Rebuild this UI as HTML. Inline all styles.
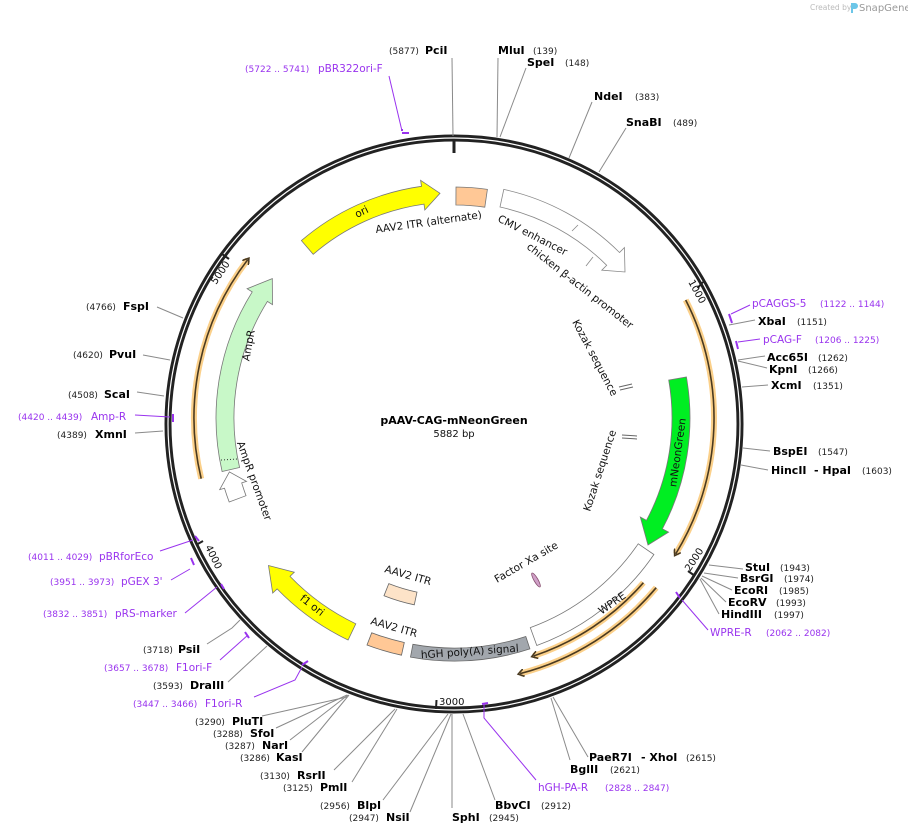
<!DOCTYPE html>
<html><head><meta charset="utf-8"><style>
html,body{margin:0;padding:0;background:#fff;}
svg{display:block;font-family:"DejaVu Sans","Liberation Sans",sans-serif;}
.n{font-weight:bold;font-size:11px;fill:#000;}
.c{font-size:9px;fill:#222;}
.p{font-size:10.5px;fill:#9933ee;}
.pc{font-size:9px;fill:#9933ee;}
.f{font-size:10.5px;fill:#111;}
.l{stroke:#8a8a8a;stroke-width:1;fill:none;}
.pl{stroke:#9933ee;stroke-width:1;fill:none;}
.pm{stroke:#9933ee;stroke-width:2;fill:none;}
</style></head><body>
<svg width="908" height="834" viewBox="0 0 908 834" xmlns="http://www.w3.org/2000/svg">
<defs>
<marker id="ah" markerWidth="8" markerHeight="8" refX="4" refY="4" orient="auto" markerUnits="userSpaceOnUse">
<path d="M0,0 L6,4 L0,8" fill="none" stroke="#4a3a20" stroke-width="1.6"/>
</marker>
</defs>
<!-- logo -->
<text x="810" y="10" font-size="7.5" fill="#bbb">Created by</text>
<path d="M851,3 l4,0 a3,3 0 0 1 0,6 l-2,0 l0,4 l-2,0z" fill="#6cc6e8"/>
<text x="859" y="11" font-size="10" fill="#999">SnapGene</text>

<!-- ring -->
<circle cx="454" cy="424" r="286" fill="none" stroke="#222" stroke-width="7"/>
<circle cx="454" cy="424" r="286" fill="none" stroke="#fff" stroke-width="1.2"/>
<line x1="454" y1="140" x2="454" y2="153" stroke="#222" stroke-width="3"/>
<!-- ticks -->
<g stroke="#222" stroke-width="2">
<line x1="697.5" y1="288" x2="703" y2="282"/>
<line x1="688" y1="571" x2="695" y2="576"/>
<line x1="436.5" y1="700" x2="436" y2="709"/>
<line x1="203" y1="541" x2="196" y2="545"/>
<line x1="229" y1="259" x2="222" y2="254"/>
</g>
<text x="688" y="282" font-size="10" transform="rotate(61 688 282)" fill="#111">1000</text>
<text x="690" y="572" font-size="10" transform="rotate(-57 690 572)" fill="#111">2000</text>
<text x="439" y="705" font-size="10" fill="#111">3000</text>
<text x="205" y="547" font-size="10" transform="rotate(64 205 547)" fill="#111">4000</text>
<text x="216" y="285" font-size="10" transform="rotate(-56 216 285)" fill="#111">5000</text>

<!-- primer orange arrows -->
<g fill="none">
<path d="M685.7,300 A260,260 0 0 1 675.7,553.9" stroke="#fbd08a" stroke-width="6"/>
<path d="M685.7,300 A260,260 0 0 1 675.7,553.9" stroke="#4a3a20" stroke-width="1.6" marker-end="url(#ah)"/>
<path d="M201.2,478.7 A260,260 0 0 1 247.7,259.7" stroke="#fbd08a" stroke-width="6"/>
<path d="M201.2,478.7 A260,260 0 0 1 247.7,259.7" stroke="#4a3a20" stroke-width="1.6" marker-end="url(#ah)"/>
<path d="M643.4,582.7 A251,251 0 0 1 533.6,656" stroke="#fbd08a" stroke-width="6"/>
<path d="M643.4,582.7 A251,251 0 0 1 533.6,656" stroke="#4a3a20" stroke-width="1.6" marker-end="url(#ah)"/>
<path d="M656.2,587.7 A264,264 0 0 1 520.1,673.6" stroke="#fbd08a" stroke-width="6"/>
<path d="M656.2,587.7 A264,264 0 0 1 520.1,673.6" stroke="#4a3a20" stroke-width="1.6" marker-end="url(#ah)"/>
</g>

<!-- ori -->
<path d="M301.4,240.6 A234,234 0 0 1 421.5,186.3 L420.6,180.3 L440,193.3 L424.8,210 L424,204.1 A216,216 0 0 0 313.2,254.3 Z" fill="#ffff00" stroke="#777" stroke-width="0.8"/>
<text x="357" y="218" font-size="10.5" transform="rotate(-26 357 218)" fill="#111">ori</text>
<!-- AAV2 ITR alt -->
<path d="M456,187 A231,231 0 0 1 487.4,189.4 L484.8,207.2 A213,213 0 0 0 455.9,205 Z" fill="#ffc896" stroke="#777" stroke-width="0.8"/>
<text x="376" y="233" class="f" transform="rotate(-8 376 233)">AAV2 ITR (alternate)</text>
<!-- CMV -->
<path d="M503.8,189.4 A234,234 0 0 1 619.5,252.5 L624.4,247.6 L625,272 L601.8,270.2 L606.7,265.3 A216,216 0 0 0 500,207 Z" fill="#fff" stroke="#888" stroke-width="0.8"/>
<line x1="578" y1="225" x2="572" y2="231" stroke="#888" stroke-width="0.8"/>
<line x1="593" y1="257" x2="586" y2="266" stroke="#888" stroke-width="0.8"/>
<text x="497" y="221" class="f" transform="rotate(27 497 221)">CMV enhancer</text>
<text x="526" y="248" class="f" transform="rotate(38 526 248)">chicken β-actin promoter</text>
<!-- Kozak -->
<g stroke="#666" stroke-width="1"><line x1="619" y1="387" x2="632" y2="384"/><line x1="620" y1="390" x2="633" y2="387"/>
<line x1="622" y1="435" x2="637" y2="436"/><line x1="622" y1="438" x2="637" y2="439"/></g>
<text x="572" y="322" class="f" transform="rotate(62 572 322)">Kozak sequence</text>
<text x="590" y="512" class="f" transform="rotate(-72 590 512)">Kozak sequence</text>
<!-- mNeonGreen -->
<path d="M686.4,377 A236,236 0 0 1 662.4,528.8 L668.6,532.1 L648,545 L640.3,517 L646.5,520.3 A218,218 0 0 0 668.7,380.1 Z" fill="#00ee22" stroke="#777" stroke-width="0.8"/>
<text x="0" y="0" class="f" text-anchor="middle" transform="translate(681,453) rotate(-82)">mNeonGreen</text>
<!-- WPRE -->
<path d="M653.9,554.5 A242,242 0 0 1 536.8,645.5 L530.3,627.6 A223,223 0 0 0 638.2,543.8 Z" fill="#fff" stroke="#777" stroke-width="0.8"/>
<text x="0" y="0" class="f" text-anchor="middle" transform="translate(614,606) rotate(-35)">WPRE</text>
<!-- hGH -->
<path d="M529.9,648.9 A243,243 0 0 1 410.5,657.1 L412.9,644.3 A230,230 0 0 0 525.8,636.5 Z" fill="#a2a7ad" stroke="#666" stroke-width="0.8"/>
<text x="0" y="0" class="f" text-anchor="middle" transform="translate(470,655) rotate(-4)">hGH poly(A) signal</text>
<!-- AAV2 ITR bottom -->
<path d="M401.5,655.2 A243,243 0 0 1 367,645 L371.7,632.8 A230,230 0 0 0 404.3,642.5 Z" fill="#ffc896" stroke="#666" stroke-width="0.8"/>
<text x="370" y="624" class="f" transform="rotate(16 370 624)">AAV2 ITR</text>
<path d="M414.3,604.8 A191,191 0 0 1 384,595.7 L388.8,583.6 A178,178 0 0 0 417,592.1 Z" fill="#fde3c8" stroke="#666" stroke-width="0.8"/>
<text x="384" y="572" class="f" transform="rotate(16 384 572)">AAV2 ITR</text>
<!-- Factor Xa -->
<ellipse cx="536" cy="580" rx="8" ry="2" transform="rotate(60 536 580)" fill="#d0a0c8" stroke="#885070" stroke-width="0.8"/>
<text x="497" y="583" class="f" transform="rotate(-30 497 583)">Factor Xa site</text>
<!-- f1 ori -->
<path d="M348.1,640 A246,246 0 0 1 277.1,588.9 L272.7,593.1 L268.5,565.5 L294.3,572.2 L290,576.4 A228,228 0 0 0 355.8,623.8 Z" fill="#ffff00" stroke="#777" stroke-width="0.8"/>
<text x="0" y="0" class="f" text-anchor="middle" transform="translate(310,608) rotate(38)">f1 ori</text>
<!-- AmpR promoter -->
<path d="M229.2,502 A240,240 0 0 1 224.5,488.2 L219.7,489.6 L229.4,471.9 L246.5,481.4 L241.7,482.9 A222,222 0 0 0 246,495.7 Z" fill="#fff" stroke="#777" stroke-width="0.8"/>
<!-- AmpR -->
<path d="M222.1,471.5 A238,238 0 0 1 252.2,291.9 L247.1,288.7 L272.3,278.6 L272.5,304.6 L267.4,301.4 A220,220 0 0 0 239.6,467.5 Z" fill="#c8f8c8" stroke="#777" stroke-width="0.8"/>
<line x1="221" y1="460" x2="238" y2="459" stroke="#333" stroke-width="1" stroke-dasharray="1,2"/>
<text x="0" y="0" class="f" text-anchor="middle" transform="translate(252,346) rotate(-80)">AmpR</text>
<text x="0" y="0" class="f" text-anchor="middle" transform="translate(251,482) rotate(70)">AmpR promoter</text>

<!-- title -->
<text x="454" y="424" text-anchor="middle" font-size="11" font-weight="bold">pAAV-CAG-mNeonGreen</text>
<text x="454" y="437" text-anchor="middle" font-size="10" fill="#111">5882 bp</text>

<!-- leader lines -->
<g class="l">
<line x1="452" y1="58" x2="453" y2="136"/>
<line x1="498" y1="58" x2="497" y2="137"/>
<line x1="526" y1="68" x2="500" y2="137"/>
<line x1="592" y1="102" x2="569" y2="158"/>
<line x1="626" y1="128" x2="599" y2="172"/>
<line x1="755" y1="320" x2="729" y2="325"/>
<line x1="765" y1="356" x2="738" y2="360"/>
<line x1="767" y1="368" x2="738" y2="361"/>
<line x1="768" y1="385" x2="742" y2="387"/>
<line x1="770" y1="451" x2="743" y2="448"/>
<line x1="768" y1="470" x2="741" y2="465"/>
<line x1="743" y1="569" x2="709" y2="565"/>
<line x1="738" y1="578" x2="704" y2="573"/>
<line x1="732" y1="590" x2="702" y2="576"/>
<line x1="726" y1="602" x2="701" y2="578"/>
<line x1="719" y1="614" x2="700" y2="579"/>
<line x1="588" y1="757" x2="553" y2="697"/>
<line x1="570" y1="760" x2="551" y2="698"/>
<line x1="495" y1="800" x2="463" y2="714"/>
<line x1="452" y1="808" x2="452" y2="714"/>
<line x1="410" y1="812" x2="451" y2="714"/>
<line x1="383" y1="800" x2="448" y2="714"/>
<line x1="352" y1="782" x2="397" y2="709"/>
<line x1="334" y1="770" x2="395" y2="709"/>
<line x1="302" y1="752" x2="349" y2="695"/>
<line x1="290" y1="740" x2="348" y2="695"/>
<line x1="276" y1="728" x2="347" y2="695"/>
<line x1="262" y1="716" x2="347" y2="697"/>
<line x1="228" y1="682" x2="267" y2="646"/>
<polyline points="207,644 232,628 240,620"/>
<line x1="135" y1="433" x2="163" y2="431"/>
<line x1="137" y1="392" x2="164" y2="396"/>
<line x1="143" y1="355" x2="170" y2="360"/>
<line x1="157" y1="307" x2="183" y2="318"/>
</g>
<!-- primer lines & marks -->
<g class="pl">
<line x1="389" y1="76" x2="402" y2="131"/>
<line x1="750" y1="305" x2="731" y2="314"/>
<line x1="760" y1="339" x2="738" y2="342"/>
<line x1="708" y1="630" x2="682" y2="600"/>
<polyline points="536,780 484,718 484,704"/>
<polyline points="254,697 295,680 302,667"/>
<line x1="220" y1="660" x2="248" y2="635"/>
<line x1="185" y1="613" x2="217" y2="587"/>
<line x1="171" y1="580" x2="190" y2="569"/>
<line x1="160" y1="551" x2="193" y2="540"/>
<line x1="135" y1="415" x2="170" y2="417"/>
</g>
<g class="pm">
<path d="M402,131 l0,-2 M402,133 l7,0"/>
<line x1="729" y1="314" x2="732" y2="323"/>
<line x1="736" y1="341" x2="738" y2="349"/>
<line x1="676" y1="592" x2="680" y2="598"/>
<line x1="482" y1="704" x2="488" y2="703"/>
<line x1="302" y1="665" x2="308" y2="661"/>
<line x1="245" y1="632" x2="249" y2="638"/>
<line x1="221" y1="584" x2="224" y2="589"/>
<line x1="191" y1="558" x2="194" y2="565"/>
<line x1="195" y1="536" x2="199" y2="541"/>
<line x1="173" y1="414" x2="173" y2="422"/>
</g>

<!-- labels top -->
<text x="389" y="54" class="c">(5877)</text><text x="425" y="54" class="n">PciI</text>
<text x="498" y="54" class="n">MluI</text><text x="533" y="54" class="c">(139)</text>
<text x="527" y="66" class="n">SpeI</text><text x="565" y="66" class="c">(148)</text>
<text x="594" y="100" class="n">NdeI</text><text x="635" y="100" class="c">(383)</text>
<text x="626" y="126" class="n">SnaBI</text><text x="673" y="126" class="c">(489)</text>
<text x="245" y="72" class="pc">(5722 .. 5741)</text><text x="318" y="72" class="p">pBR322ori-F</text>
<!-- right -->
<text x="752" y="307" class="p">pCAGGS-5</text><text x="820" y="307" class="pc">(1122 .. 1144)</text>
<text x="758" y="325" class="n">XbaI</text><text x="797" y="325" class="c">(1151)</text>
<text x="763" y="343" class="p">pCAG-F</text><text x="815" y="343" class="pc">(1206 .. 1225)</text>
<text x="767" y="361" class="n">Acc65I</text><text x="818" y="361" class="c">(1262)</text>
<text x="769" y="373" class="n">KpnI</text><text x="808" y="373" class="c">(1266)</text>
<text x="771" y="389" class="n">XcmI</text><text x="813" y="389" class="c">(1351)</text>
<text x="773" y="455" class="n">BspEI</text><text x="818" y="455" class="c">(1547)</text>
<text x="771" y="474" class="n">HincII</text><text x="814" y="474" class="n">- HpaI</text><text x="862" y="474" class="c">(1603)</text>
<text x="745" y="571" class="n">StuI</text><text x="780" y="571" class="c">(1943)</text>
<text x="740" y="582" class="n">BsrGI</text><text x="784" y="582" class="c">(1974)</text>
<text x="734" y="594" class="n">EcoRI</text><text x="779" y="594" class="c">(1985)</text>
<text x="728" y="606" class="n">EcoRV</text><text x="776" y="606" class="c">(1993)</text>
<text x="721" y="618" class="n">HindIII</text><text x="774" y="618" class="c">(1997)</text>
<text x="710" y="636" class="p">WPRE-R</text><text x="766" y="636" class="pc">(2062 .. 2082)</text>
<!-- bottom -->
<text x="589" y="761" class="n">PaeR7I</text><text x="641" y="761" class="n">- XhoI</text><text x="686" y="761" class="c">(2615)</text>
<text x="570" y="773" class="n">BglII</text><text x="610" y="773" class="c">(2621)</text>
<text x="538" y="791" class="p">hGH-PA-R</text><text x="605" y="791" class="pc">(2828 .. 2847)</text>
<text x="495" y="809" class="n">BbvCI</text><text x="541" y="809" class="c">(2912)</text>
<text x="452" y="821" class="n">SphI</text><text x="489" y="821" class="c">(2945)</text>
<text x="349" y="821" class="c">(2947)</text><text x="386" y="821" class="n">NsiI</text>
<text x="320" y="809" class="c">(2956)</text><text x="357" y="809" class="n">BlpI</text>
<text x="283" y="791" class="c">(3125)</text><text x="320" y="791" class="n">PmlI</text>
<text x="260" y="779" class="c">(3130)</text><text x="297" y="779" class="n">RsrII</text>
<text x="240" y="761" class="c">(3286)</text><text x="276" y="761" class="n">KasI</text>
<text x="225" y="749" class="c">(3287)</text><text x="262" y="749" class="n">NarI</text>
<text x="213" y="737" class="c">(3288)</text><text x="250" y="737" class="n">SfoI</text>
<text x="195" y="725" class="c">(3290)</text><text x="232" y="725" class="n">PluTI</text>
<text x="133" y="707" class="pc">(3447 .. 3466)</text><text x="205" y="707" class="p">F1ori-R</text>
<text x="153" y="689" class="c">(3593)</text><text x="190" y="689" class="n">DraIII</text>
<text x="104" y="671" class="pc">(3657 .. 3678)</text><text x="176" y="671" class="p">F1ori-F</text>
<text x="143" y="653" class="c">(3718)</text><text x="178" y="653" class="n">PsiI</text>
<text x="43" y="617" class="pc">(3832 .. 3851)</text><text x="115" y="617" class="p">pRS-marker</text>
<text x="50" y="585" class="pc">(3951 .. 3973)</text><text x="121" y="585" class="p">pGEX 3'</text>
<text x="28" y="560" class="pc">(4011 .. 4029)</text><text x="99" y="560" class="p">pBRforEco</text>
<!-- left -->
<text x="57" y="438" class="c">(4389)</text><text x="95" y="438" class="n">XmnI</text>
<text x="18" y="420" class="pc">(4420 .. 4439)</text><text x="91" y="420" class="p">Amp-R</text>
<text x="68" y="398" class="c">(4508)</text><text x="104" y="398" class="n">ScaI</text>
<text x="73" y="358" class="c">(4620)</text><text x="109" y="358" class="n">PvuI</text>
<text x="86" y="310" class="c">(4766)</text><text x="123" y="310" class="n">FspI</text>
</svg>
</body></html>
